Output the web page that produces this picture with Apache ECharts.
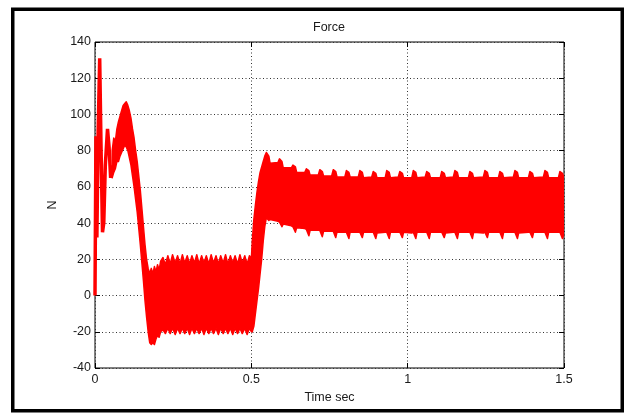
<!DOCTYPE html>
<html>
<head>
<meta charset="utf-8">
<script src="https://cdn.jsdelivr.net/npm/echarts@6/dist/echarts.min.js"></script>
<style>
html,body{margin:0;padding:0;background:#fff;}
#chart{width:626px;height:414px;}
</style>
</head>
<body>
<div id="chart"></div>
<script>
// ---- data ----
const xTicks = [0, 0.5, 1, 1.5];
const yTicks = [-40, -20, 0, 20, 40, 60, 80, 100, 120, 140];

// start-up transient (a single thick trace)
const transT = [0.000, 0.003, 0.006, 0.010, 0.015, 0.019, 0.024, 0.028, 0.033, 0.040, 0.045, 0.050, 0.055];
const transV = [0, 88, 32, 90, 131, 85, 35, 40, 72, 92, 82, 65, 72];

// oscillation band: time, upper envelope, lower envelope
const bandT = [
  0.055, 0.060, 0.065, 0.070, 0.075, 0.080, 0.085, 0.090, 0.095, 0.100,
  0.105, 0.110, 0.115, 0.120, 0.125, 0.130, 0.135, 0.140, 0.145, 0.150,
  0.155, 0.160, 0.165, 0.170, 0.175, 0.180, 0.185, 0.190, 0.195, 0.200,
  0.205, 0.210,
  0.2175, 0.225, 0.233, 0.2405, 0.248, 0.2565, 0.264, 0.272, 0.2795, 0.287,
  0.295, 0.3025, 0.310, 0.318, 0.3255, 0.333, 0.341, 0.3485, 0.356, 0.364,
  0.3715, 0.379, 0.387, 0.3945, 0.402, 0.410, 0.4175, 0.425, 0.433, 0.4405,
  0.448, 0.456, 0.4635, 0.471, 0.479, 0.4865, 0.494, 0.500,
  0.503, 0.508, 0.513, 0.518, 0.523, 0.528, 0.533, 0.538, 0.543,
  0.548, 0.556, 0.560, 0.585,  0.590, 0.598, 0.602, 0.628,
  0.633, 0.641, 0.645, 0.671,  0.676, 0.684, 0.688, 0.714,
  0.719, 0.727, 0.731, 0.757,  0.762, 0.770, 0.774, 0.799,
  0.804, 0.812, 0.816, 0.842,  0.847, 0.855, 0.859, 0.885,
  0.890, 0.898, 0.902, 0.928,  0.933, 0.941, 0.945, 0.970,
  0.975, 0.983, 0.987, 1.013,  1.018, 1.026, 1.030, 1.056,
  1.061, 1.069, 1.073, 1.104,  1.109, 1.117, 1.121, 1.146,
  1.151, 1.159, 1.163, 1.194,  1.199, 1.207, 1.211, 1.242,
  1.247, 1.255, 1.259, 1.290,  1.295, 1.303, 1.307, 1.338,
  1.343, 1.351, 1.355, 1.386,  1.391, 1.399, 1.403, 1.434,
  1.439, 1.447, 1.451, 1.482,  1.487, 1.495, 1.500
];
const bandU = [
  80, 87, 85, 92, 96, 99, 102, 105, 106, 107,
  105, 102, 98, 92, 87, 80, 74, 66, 58, 48,
  38, 28, 20, 15, 12, 15, 12, 16, 13, 17,
  14, 19,
  21, 17, 22, 17.5, 22.5, 18, 22, 17.5, 22.5, 18,
  22, 17.5, 22, 18, 22.5, 17.5, 22, 18, 22, 17.5,
  22.5, 18, 22, 17.5, 22, 18, 22.5, 17.5, 22, 18,
  22, 17.5, 22.5, 18, 22, 17.5, 22, 20,
  30, 42, 50, 57, 63, 68, 71, 74, 77,
  79, 77, 73, 73.5,  75.5, 74, 70.5, 70.5,
  72, 71, 68, 68,  70, 69, 66.5, 66.5,
  69.5, 68.5, 66, 66,  69.5, 68.5, 65.5, 65.5,
  69, 68, 65.5, 65.5,  69, 68, 65, 65.5,
  68.5, 67.5, 65, 65,  69, 68, 65, 65.5,
  68.5, 67.5, 65, 65,  69, 68, 65, 65.5,
  68.5, 67.5, 65, 65,  68.5, 67.5, 65, 65.5,
  69, 68, 65, 65,  68.5, 67.5, 65, 65.5,
  69, 68, 65, 65,  68.5, 67.5, 65, 65.5,
  69, 68, 65, 65,  68.5, 67.5, 65, 65.5,
  69, 68, 65, 65,  68.5, 67.5, 65
];
const bandL = [
  65, 68, 70, 74, 74, 77, 79, 81, 83, 82,
  80, 76, 72, 66, 60, 53, 46, 37, 28, 18,
  8, -3, -12, -20, -26, -27, -26, -27, -24, -22,
  -23, -20,
  -19, -21, -18, -21, -18, -21.5, -18, -21, -18, -21,
  -18, -21.5, -18, -21, -18, -21, -18, -21.5, -18, -21,
  -18, -21, -18, -21.5, -18, -21, -18, -21, -18, -21.5,
  -18, -21, -18, -21, -18, -21.5, -18, -20,
  -20, -17, -10, -3, 4, 12, 20, 30, 38,
  43, 41.5, 42, 41,  40.5, 38, 39.5, 38.5,
  38, 35, 37.5, 37,  36.5, 33, 36, 36,
  36, 32.5, 35.5, 35.5,  35.5, 32, 35, 35,
  35, 31.5, 35, 35,  35, 32, 35, 35,
  35, 31.5, 34.5, 35,  35, 31.5, 35, 35,
  35, 32, 35, 34.5,  35, 31.5, 35, 35,
  35, 31.5, 35, 35,  35, 32, 34.5, 35,
  35, 31.5, 35, 35,  35, 31.5, 35, 34.5,
  35, 32, 35, 35,  35, 31.5, 35, 35,
  35, 31.5, 34.5, 35,  35, 32, 35, 35,
  35, 31.5, 35, 35,  35, 31.5, 34
];

// ---- chart ----
const RED = '#ff0000';
const FONT = '"Liberation Sans", Arial, sans-serif';
const chart = echarts.init(document.getElementById('chart'), null, {renderer: 'canvas'});

const transData = transT.map((t, i) => [t, transV[i]]);
const bandData = bandT.map((t, i) => [t, bandU[i], bandL[i]]);

const gridLine = {show: true, lineStyle: {color: '#333', width: 1, type: [1, 2.5]}};
const labelStyle = {color: '#1a1a1a', fontFamily: FONT, fontSize: 12.5};

function renderBand(params, api) {
  if (params.dataIndex !== 0) return null;
  const up = [], lo = [];
  for (let i = 0; i < bandData.length; i++) {
    up.push(api.coord([bandData[i][0], bandData[i][1]]));
    lo.push(api.coord([bandData[i][0], bandData[i][2]]));
  }
  const pts = up.concat(lo.reverse());
  const cs = params.coordSys;
  return {
    type: 'polygon',
    shape: {points: pts},
    style: {fill: RED, stroke: RED, lineWidth: 1.5, lineJoin: 'round'},
    clipPath: {type: 'rect', shape: {x: cs.x, y: cs.y, width: cs.width, height: cs.height}}
  };
}

const tickStyle = {show: true, inside: true, length: 5, lineStyle: {color: '#000'}};

chart.setOption({
  animation: false,
  backgroundColor: '#ffffff',
  grid: {left: 95, top: 42, width: 469, height: 326, show: true,
         borderColor: '#000', borderWidth: 1, backgroundColor: '#fff', containLabel: false},
  xAxis: [{
    type: 'value', min: xTicks[0], max: xTicks[xTicks.length - 1], interval: 0.5,
    position: 'bottom',
    name: 'Time sec', nameLocation: 'middle', nameGap: 18,
    nameTextStyle: labelStyle,
    axisLine: {show: false, onZero: false},
    axisTick: tickStyle,
    axisLabel: Object.assign({margin: 5}, labelStyle),
    splitLine: gridLine
  }, {
    type: 'value', min: xTicks[0], max: xTicks[xTicks.length - 1], interval: 0.5,
    position: 'top',
    axisLine: {show: false, onZero: false},
    axisTick: tickStyle,
    axisLabel: {show: false}, splitLine: {show: false}
  }],
  yAxis: [{
    type: 'value', min: yTicks[0], max: yTicks[yTicks.length - 1], interval: 20,
    position: 'left',
    name: 'N', nameLocation: 'middle', nameGap: 13, nameRotate: 90,
    nameTextStyle: labelStyle,
    axisLine: {show: false, onZero: false},
    axisTick: tickStyle,
    axisLabel: Object.assign({margin: 4}, labelStyle),
    splitLine: gridLine
  }, {
    type: 'value', min: yTicks[0], max: yTicks[yTicks.length - 1], interval: 20,
    position: 'right',
    axisLine: {show: false, onZero: false},
    axisTick: tickStyle,
    axisLabel: {show: false}, splitLine: {show: false}
  }],
  graphic: [
    {type: 'rect', shape: {x: 12.75, y: 9.25, width: 609.5, height: 401.5},
     style: {fill: 'none', stroke: '#000', lineWidth: 3.5}, z: 100},
    {type: 'text', x: 329, y: 28,
     style: {text: 'Force', align: 'center', verticalAlign: 'middle',
             fontFamily: FONT, fontSize: 12.5, fill: '#1a1a1a'}, z: 100}
  ],
  series: [
    {type: 'line', data: transData, showSymbol: false, symbol: 'none',
     lineStyle: {color: RED, width: 3.5}, z: 3},
    {type: 'custom', data: bandData, renderItem: renderBand,
     encode: {x: 0, y: [1, 2]}, z: 3}
  ]
});
</script>
</body>
</html>
